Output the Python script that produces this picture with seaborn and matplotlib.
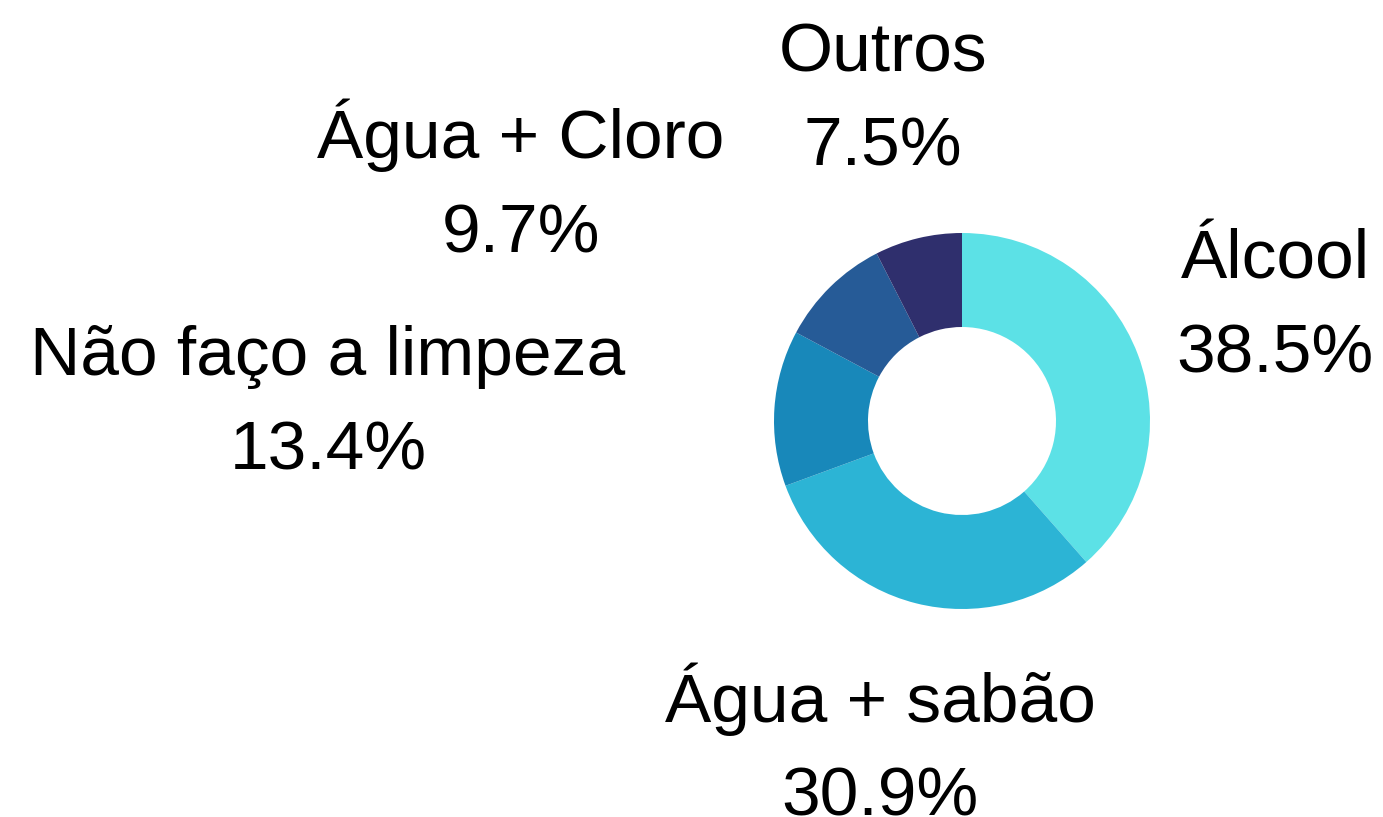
import matplotlib
matplotlib.use("Agg")
import matplotlib.pyplot as plt
import seaborn as sns

# ---- data ----
categories = ["Álcool", "Água + sabão", "Não faço a limpeza", "Água + Cloro", "Outros"]
values = [38.5, 30.9, 13.4, 9.7, 7.5]
colors = ["#5ce1e6", "#2cb4d5", "#1888ba", "#265b97", "#2f2f6d"]

# label anchor positions (pixels from top-left): centre x, baseline of name, baseline of percent
label_x = [1275, 880, 328, 521, 883]
name_base = [278, 722, 375, 158, 71]
pct_base = [372, 815, 469, 252, 165]

W, H = 1383, 817

sns.set_style("white")
plt.rcParams["font.family"] = ["Liberation Sans", "DejaVu Sans"]

fig = plt.figure(figsize=(W / 100, H / 100), dpi=100)
ax = fig.add_axes([0, 0, 1, 1])

ax.pie(values, colors=colors, startangle=90, counterclock=False,
       radius=188, center=(962, H - 421),
       wedgeprops=dict(width=94, edgecolor="none", linewidth=0))

ax.set_xlim(0, W)
ax.set_ylim(0, H)
ax.set_aspect("equal")
ax.axis("off")

for cat, v, x, nb, pb in zip(categories, values, label_x, name_base, pct_base):
    ax.text(x, H - nb, cat, ha="center", va="baseline", fontsize=50, color="black")
    ax.text(x, H - pb, f"{v}%", ha="center", va="baseline", fontsize=50, color="black")

fig.savefig("out.png", dpi=100, facecolor="white")
